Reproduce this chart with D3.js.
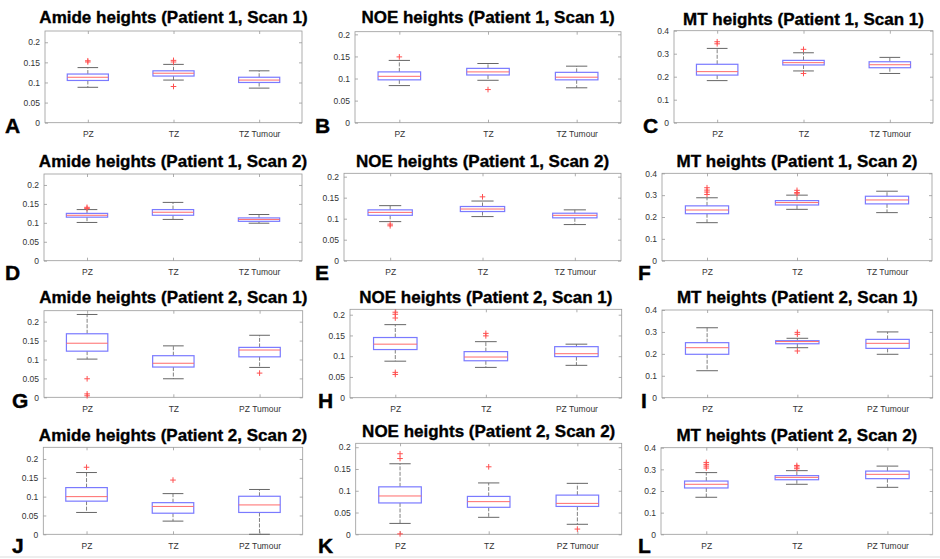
<!DOCTYPE html>
<html>
<head>
<meta charset="utf-8">
<script src="https://cdn.jsdelivr.net/npm/d3@7"></script>
<style>
  body { margin: 0; background: #fff; }
  text { font-family: "Liberation Sans", Arial, Helvetica, sans-serif; }
</style>
</head>
<body>
<script>
// titles, panel letters, categories
var titles = [
  "Amide heights (Patient 1, Scan 1)", "NOE heights (Patient 1, Scan 1)", "MT heights (Patient 1, Scan 1)",
  "Amide heights (Patient 1, Scan 2)", "NOE heights (Patient 1, Scan 2)", "MT heights (Patient 1, Scan 2)",
  "Amide heights (Patient 2, Scan 1)", "NOE heights (Patient 2, Scan 1)", "MT heights (Patient 2, Scan 1)",
  "Amide heights (Patient 2, Scan 2)", "NOE heights (Patient 2, Scan 2)", "MT heights (Patient 2, Scan 2)"
];
var letters = ["A", "B", "C", "D", "E", "F", "G", "H", "I", "J", "K", "L"];
var catsP1 = ["PZ", "TZ", "TZ Tumour"];
var catsP2 = ["PZ", "TZ", "PZ Tumour"];
var ticksSmall = [0, 0.05, 0.1, 0.15, 0.2];
var ticksMT = [0, 0.1, 0.2, 0.3, 0.4];
var yMax = [0.228, 0.206, 0.4, 0.229, 0.208, 0.4, 0.229, 0.213, 0.4, 0.231, 0.209, 0.4];

// box stats per category: [lower whisker, q1, median, q3, upper whisker]
var boxA = [[0.088, 0.105, 0.113, 0.121, 0.137], [0.106, 0.116, 0.123, 0.129, 0.145], [0.086, 0.100, 0.106, 0.113, 0.129]];
var boxB = [[0.084, 0.097, 0.105, 0.115, 0.141], [0.096, 0.108, 0.115, 0.123, 0.134], [0.079, 0.097, 0.103, 0.114, 0.128]];
var boxC = [[0.183, 0.207, 0.222, 0.254, 0.323], [0.225, 0.251, 0.261, 0.271, 0.304], [0.214, 0.239, 0.252, 0.265, 0.284]];
var boxD = [[0.101, 0.115, 0.120, 0.125, 0.135], [0.109, 0.120, 0.128, 0.135, 0.154], [0.099, 0.104, 0.109, 0.113, 0.122]];
var boxE = [[0.093, 0.108, 0.115, 0.121, 0.131], [0.105, 0.117, 0.123, 0.129, 0.142], [0.086, 0.102, 0.108, 0.113, 0.121]];
var boxF = [[0.174, 0.215, 0.232, 0.251, 0.288], [0.235, 0.255, 0.266, 0.275, 0.300], [0.220, 0.260, 0.278, 0.295, 0.318]];
var boxG = [[0.101, 0.122, 0.143, 0.168, 0.219], [0.049, 0.080, 0.090, 0.110, 0.136], [0.079, 0.107, 0.125, 0.132, 0.164]];
var boxH = [[0.088, 0.116, 0.129, 0.145, 0.176], [0.073, 0.089, 0.098, 0.111, 0.135], [0.078, 0.099, 0.106, 0.123, 0.129]];
var boxI = [[0.123, 0.198, 0.228, 0.251, 0.319], [0.228, 0.246, 0.256, 0.260, 0.271], [0.198, 0.225, 0.248, 0.266, 0.300]];
var boxJ = [[0.058, 0.088, 0.100, 0.124, 0.164], [0.035, 0.056, 0.074, 0.084, 0.108], [0.000, 0.058, 0.078, 0.101, 0.119]];
var boxK = [[0.025, 0.072, 0.088, 0.109, 0.162], [0.039, 0.062, 0.075, 0.087, 0.118], [0.023, 0.064, 0.071, 0.090, 0.117]];
var boxL = [[0.171, 0.214, 0.231, 0.246, 0.285], [0.231, 0.252, 0.263, 0.271, 0.294], [0.217, 0.257, 0.277, 0.292, 0.315]];

// outliers per category
var outA = [[0.154, 0.151], [0.155, 0.151, 0.090], []];
var outB = [[0.149], [0.075], []];
var outC = [[0.352, 0.343], [0.319, 0.214], []];
var outD = [[0.141, 0.138], [], []];
var outE = [[0.087, 0.083], [0.152], []];
var outF = [[0.334, 0.323, 0.314, 0.303], [0.322, 0.312, 0.306], []];
var outG = [[0.049, 0.009, 0.004], [], [0.064]];
var outH = [[0.206, 0.201, 0.192, 0.061, 0.056], [0.155, 0.149], []];
var outI = [[], [0.298, 0.289, 0.213], []];
var outJ = [[0.178], [0.144], []];
var outK = [[0.185, 0.174, 0.001], [0.155], [0.012]];
var outL = [[0.332, 0.323, 0.315, 0.306], [0.318, 0.311, 0.303], []];

var boxes = [boxA, boxB, boxC, boxD, boxE, boxF, boxG, boxH, boxI, boxJ, boxK, boxL];
var outs = [outA, outB, outC, outD, outE, outF, outG, outH, outI, outJ, outK, outL];

// layout: axes frame [left, right, top, bottom], title baseline, letter x / baseline
var frames = [
  [45, 302, 31, 122.7], [355, 621, 31.7, 122.7], [674, 933, 30.7, 122.7],
  [44, 302, 174, 260.7], [344, 621, 173.3, 260.7], [662, 932, 173.3, 260.7],
  [44, 302.7, 310.7, 397.3], [350, 621.7, 309.3, 397.7], [662, 932.7, 310, 397.7],
  [43.3, 302.7, 447.3, 534.3], [355.7, 621.7, 443.3, 534.3], [661, 932.7, 447.7, 534.3]
];
var titleY = [23, 23, 25, 166.7, 166.7, 166.7, 303, 303, 303, 440.7, 436.7, 440.7];
var letterPos = [
  [5, 133], [315, 133], [643, 133],
  [5, 280], [315, 280], [638, 280],
  [12, 408], [318, 408], [641, 408],
  [12, 553], [318, 553], [638, 553]
];

var svg = d3.select("body").append("svg").attr("width", 940).attr("height", 559);

var fmt = function(d){ return String(+d.toFixed(3)); };

for (var i = 0; i < 12; i++) {
  var f = frames[i];
  var cats = i < 6 ? catsP1 : catsP2;
  var yt = (i % 3 == 2) ? ticksMT : ticksSmall;

  var x = d3.scaleLinear().domain([0.5, 3.5]).range([f[0], f[1]]);
  var y = d3.scaleLinear().domain([0, yMax[i]]).range([f[3], f[2]]);
  var g = svg.append("g");

  g.append("rect")
    .attr("x", f[0]).attr("y", f[2])
    .attr("width", f[1] - f[0]).attr("height", f[3] - f[2])
    .attr("fill", "none").attr("stroke", "#999").attr("stroke-width", 0.8);

  var yl = g.append("g").attr("transform", "translate(" + f[0] + ",0)")
    .call(d3.axisLeft(y).tickValues(yt).tickSize(-3).tickPadding(5).tickFormat(fmt));
  var yr = g.append("g").attr("transform", "translate(" + f[1] + ",0)")
    .call(d3.axisRight(y).tickValues(yt).tickSize(-3).tickFormat(""));
  var xb = g.append("g").attr("transform", "translate(0," + f[3] + ")")
    .call(d3.axisBottom(x).tickValues([1, 2, 3]).tickSize(-3).tickPadding(7)
      .tickFormat(function(k){ return cats[k - 1]; }));
  var xt = g.append("g").attr("transform", "translate(0," + f[2] + ")")
    .call(d3.axisTop(x).tickValues([1, 2, 3]).tickSize(-3).tickFormat(""));

  [yl, yr, xb, xt].forEach(function(a){
    a.select(".domain").remove();
    a.selectAll(".tick line").attr("stroke", "#999").attr("stroke-width", 0.8);
    a.selectAll(".tick text").attr("fill", "#333").style("font-size", "8.5px");
  });
  xb.selectAll(".tick text").attr("dy", "0.9em");

  var bw = 0.48;
  boxes[i].forEach(function(s, k){
    var c = k + 1;
    // whiskers
    g.append("line").attr("x1", x(c)).attr("x2", x(c)).attr("y1", y(s[3])).attr("y2", y(s[4]))
      .attr("stroke", "#808080").attr("stroke-dasharray", "4,1.5");
    g.append("line").attr("x1", x(c)).attr("x2", x(c)).attr("y1", y(s[1])).attr("y2", y(s[0]))
      .attr("stroke", "#808080").attr("stroke-dasharray", "4,1.5");
    // caps
    [s[0], s[4]].forEach(function(v){
      g.append("line").attr("x1", x(c - bw / 4)).attr("x2", x(c + bw / 4))
        .attr("y1", y(v)).attr("y2", y(v)).attr("stroke", "#666");
    });
    // box
    g.append("rect").attr("x", x(c - bw / 2)).attr("y", y(s[3]))
      .attr("width", x(c + bw / 2) - x(c - bw / 2)).attr("height", y(s[1]) - y(s[3]))
      .attr("fill", "none").attr("stroke", "#7a7aff").attr("stroke-width", 1.2);
    // median
    g.append("line").attr("x1", x(c - bw / 2)).attr("x2", x(c + bw / 2))
      .attr("y1", y(s[2])).attr("y2", y(s[2])).attr("stroke", "#ff6b6b").attr("stroke-width", 1);
    // outliers
    outs[i][k].forEach(function(v){
      g.append("path")
        .attr("d", "M" + (x(c) - 2.8) + "," + y(v) + "h5.6M" + x(c) + "," + (y(v) - 2.8) + "v5.6")
        .attr("stroke", "#ff5050").attr("stroke-width", 1).attr("fill", "none");
    });
  });

  svg.append("text")
    .attr("x", (f[0] + f[1]) / 2).attr("y", titleY[i])
    .attr("text-anchor", "middle")
    .style("font-size", "17px").style("font-weight", "bold")
    .attr("fill", "#000").attr("stroke", "#000").attr("stroke-width", 0.35)
    .text(titles[i]);

  svg.append("text")
    .attr("x", letterPos[i][0]).attr("y", letterPos[i][1])
    .style("font-size", "21px").style("font-weight", "bold")
    .attr("fill", "#000").attr("stroke", "#000").attr("stroke-width", 0.4)
    .text(letters[i]);
}

// faint figure edge line
svg.append("line").attr("x1", 0).attr("x2", 940).attr("y1", 557).attr("y2", 557).attr("stroke", "#ddd");
</script>
</body>
</html>
